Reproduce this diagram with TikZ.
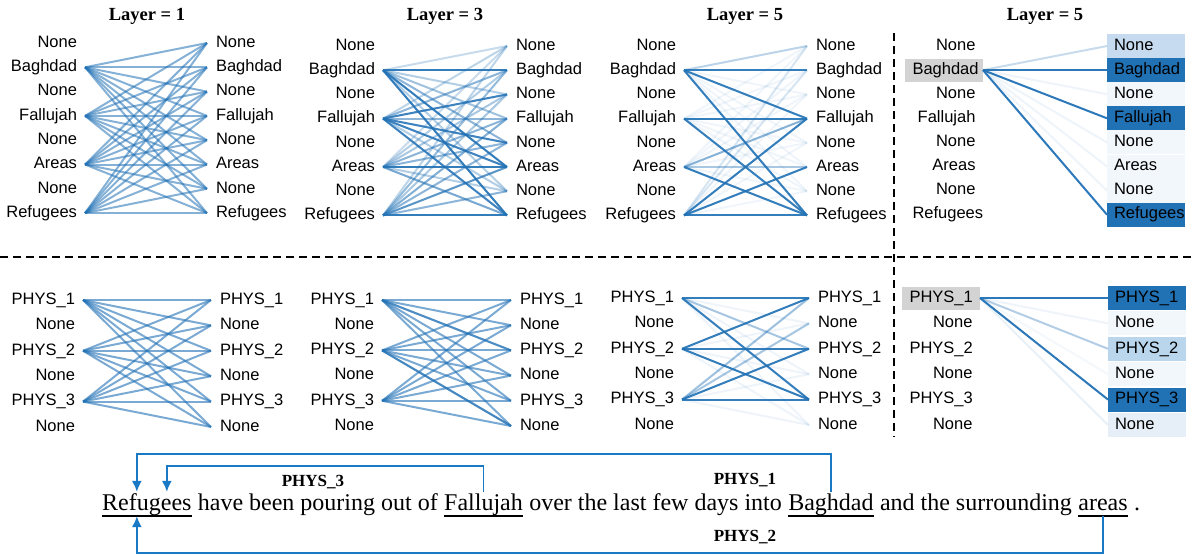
\documentclass[tikz,border=0pt]{standalone}
\usepackage{fontspec}
\setmainfont{Liberation Serif}
\setsansfont{Liberation Sans}
\usetikzlibrary{arrows.meta}

\definecolor{attblue}{RGB}{33,113,181}
\definecolor{arrblue}{RGB}{26,121,196}
\definecolor{selgray}{RGB}{211,211,211}
\definecolor{boxlight}{RGB}{198,219,239}
\definecolor{boxmid}{RGB}{185,214,236}
\definecolor{boxfaint}{RGB}{242,247,252}
\definecolor{boxpale}{RGB}{230,239,248}
\newcommand{\tokfont}{\fontsize{16.5}{18}\selectfont\sffamily}
\newcommand{\sentfont}{\fontsize{24}{26}\selectfont}
\newcommand{\layfont}{\fontsize{18.5}{20}\selectfont\bfseries}

\tikzset{
  tok/.style={font=\tokfont,inner sep=0pt,outer ysep=0pt,text height=12pt,text depth=3.5pt},
  lefttok/.style={tok,anchor=east,outer xsep=8pt},
  righttok/.style={tok,anchor=west,outer xsep=9pt},
  lbox/.style={tok,anchor=east,text width=63pt,align=right,inner xsep=7.5pt,minimum height=23pt,outer xsep=0pt,fill=#1},
  rbox/.style={tok,anchor=west,text width=64pt,align=left,inner xsep=7pt,minimum height=24pt,outer xsep=0pt,fill=#1},
  att/.style={line width=2pt,draw=attblue,draw opacity=#1},
  laytitle/.style={font=\layfont},
  word/.style={font=\sentfont,inner sep=0pt,text height=18pt,text depth=6pt,anchor=base west},
  uline/.style={line width=1.8pt},
  link/.style={draw=arrblue,line width=1.6pt,-{Latex[length=11pt,width=10pt]}},
  rel/.style={font=\fontsize{17}{19}\selectfont\bfseries},
  divider/.style={line width=2.5pt,dash pattern=on 8pt off 5pt},
}

\begin{document}
\begin{tikzpicture}[x=1pt,y=-1pt]
\useasboundingbox (0,0) rectangle (1192,555);

% titles
\node[laytitle] (h1) at (147,16) {Layer = 1};
\node[laytitle] (h2) at (445,16) {Layer = 3};
\node[laytitle] (h3) at (745,16) {Layer = 5};
\node[laytitle] (h4) at (1045,16) {Layer = 5};

% top row: tokens
\foreach \w [count=\i from 0] in {None,Baghdad,None,Fallujah,None,Areas,None,Refugees}{
  \node[lefttok] (L1-\i) at (85,{43+24.3*\i}) {\w};
  \node[righttok] (R1-\i) at (207,{43+24.3*\i}) {\w};
  \node[lefttok] (L2-\i) at (383,{46+24.2*\i}) {\w};
  \node[righttok] (R2-\i) at (507,{46+24.2*\i}) {\w};
  \node[lefttok] (L3-\i) at (684,{46+24.2*\i}) {\w};
  \node[righttok] (R3-\i) at (807,{46+24.2*\i}) {\w};
}
\foreach \w/\f [count=\i from 0] in {None/white,Baghdad/selgray,None/white,Fallujah/white,None/white,Areas/white,None/white,Refugees/white}
  \node[lbox=\f] (L4-\i) at (983,{46+24.1*\i}) {\w};
\foreach \w/\f [count=\i from 0] in {None/boxlight,Baghdad/attblue,None/boxfaint,Fallujah/attblue,None/boxfaint,Areas/boxfaint,None/boxfaint,Refugees/attblue}
  \node[rbox=\f] (R4-\i) at (1107,{46+24.1*\i}) {\w};

% layer 1
\foreach \i in {1,3,5,7} \foreach \j in {0,...,7} \draw[att=0.55] (L1-\i.east) -- (R1-\j.west);
% layer 3
\foreach \i in {1,3,5,7} \foreach \j in {0,...,7} \draw[att=0.12] (L2-\i.east) -- (R2-\j.west);
\foreach \i/\j/\op in {1/1/0.9,1/5/0.9,1/7/0.9,1/3/0.35,1/4/0.45,1/6/0.25,1/2/0.25,1/0/0.15,
    3/2/0.85,3/4/0.85,3/5/0.85,3/7/0.85,3/3/0.45,3/1/0.45,3/0/0.2,3/6/0.25,
    5/5/0.9,5/7/0.55,5/3/0.45,5/4/0.45,5/2/0.3,5/1/0.25,5/0/0.15,5/6/0.25,
    7/7/0.9,7/5/0.7,7/4/0.45,7/3/0.5,7/2/0.3,7/1/0.4,7/0/0.2,7/6/0.45}
  \draw[att=\op] (L2-\i.east) -- (R2-\j.west);
% layer 5
\foreach \i in {1,3,5,7} \foreach \j in {0,...,7} \draw[att=0.07] (L3-\i.east) -- (R3-\j.west);
\foreach \i/\j/\op in {1/1/0.9,1/3/0.9,1/7/0.9,1/0/0.25,3/3/0.9,3/7/0.9,
    5/3/0.5,5/5/0.35,5/7/0.9,7/3/0.9,7/5/0.9,7/7/0.9,7/1/0.12,7/0/0.12}
  \draw[att=\op] (L3-\i.east) -- (R3-\j.west);
% layer 5, Baghdad only
\foreach \j/\op in {0/0.25,1/0.95,2/0.08,3/0.95,4/0.08,5/0.08,6/0.08,7/0.95}
  \draw[att=\op] (L4-1.east) -- (R4-\j.west);

% bottom row: tokens
\foreach \w [count=\i from 0] in {PHYS\_1,None,PHYS\_2,None,PHYS\_3,None}{
  \node[lefttok] (L5-\i) at (83,{300+25.4*\i}) {\w};
  \node[righttok] (R5-\i) at (211,{300+25.4*\i}) {\w};
  \node[lefttok] (L6-\i) at (382,{300+25.2*\i}) {\w};
  \node[righttok] (R6-\i) at (511,{300+25.2*\i}) {\w};
  \node[lefttok] (L7-\i) at (682,{298+25.4*\i}) {\w};
  \node[righttok] (R7-\i) at (809,{298+25.4*\i}) {\w};
}
\foreach \w/\f [count=\i from 0] in {PHYS\_1/selgray,None/white,PHYS\_2/white,None/white,PHYS\_3/white,None/white}
  \node[lbox=\f] (L8-\i) at (980,{298+25.4*\i}) {\w};
\foreach \w/\f [count=\i from 0] in {PHYS\_1/attblue,None/boxfaint,PHYS\_2/boxmid,None/boxfaint,PHYS\_3/attblue,None/boxpale}
  \node[rbox=\f] (R8-\i) at (1108,{298+25.4*\i}) {\w};

\foreach \i in {0,2,4} \foreach \j in {0,...,5} \draw[att=0.6] (L5-\i.east) -- (R5-\j.west);
\foreach \i in {0,2,4} \foreach \j in {0,...,5} \draw[att=0.6] (L6-\i.east) -- (R6-\j.west);
\draw[att=0.5] (L6-0.east) -- (R6-2.west);
\draw[att=0.6] (L6-2.east) -- (R6-5.west);
\foreach \i in {0,2,4} \foreach \j in {0,...,5} \draw[att=0.08] (L7-\i.east) -- (R7-\j.west);
\foreach \i/\j/\op in {0/0/0.9,0/4/0.9,0/2/0.35,2/0/0.9,2/2/0.9,2/4/0.9,
    4/0/0.4,4/1/0.35,4/2/0.9,4/4/0.9}
  \draw[att=\op] (L7-\i.east) -- (R7-\j.west);
\foreach \j/\op in {0/0.95,1/0.08,2/0.35,3/0.05,4/0.95,5/0.1}
  \draw[att=\op] (L8-0.east) -- (R8-\j.west);

% dividers
\draw[divider] (0,257) -- (1192,257);
\draw[divider] (894,33) -- (894,437);

% sentence
\node[word] (w1) at (102,510) {Refugees};
\node[word] (t1) at (w1.base east) {\ have been pouring out of\ \null};
\node[word] (w2) at (t1.base east) {Fallujah};
\node[word] (t2) at (w2.base east) {\ over the last few days into\ \null};
\node[word] (w3) at (t2.base east) {Baghdad};
\node[word] (t3) at (w3.base east) {\ and the surrounding\ \null};
\node[word] (w4) at (t3.base east) {areas};
\node[word] (t4) at (w4.base east) {\ .};
\foreach \n in {w1,w2,w3,w4} \draw[uline] (\n.south west) -- (\n.south east);

\draw[link] (w3.north) -- ++(0,-38) -| ([xshift=-10pt]w1.north);
\node[rel] (r1) at (745,480) {PHYS\_1};
\draw[link] (w2.north) -- ++(0,-26) -| ([xshift=20pt]w1.north);
\node[rel] (r3) at (313,482) {PHYS\_3};
\draw[link] (w4.south) -- ++(0,37) -| ([xshift=-10pt]w1.south);
\node[rel] (r2) at (745,537) {PHYS\_2};
\end{tikzpicture}
\end{document}
